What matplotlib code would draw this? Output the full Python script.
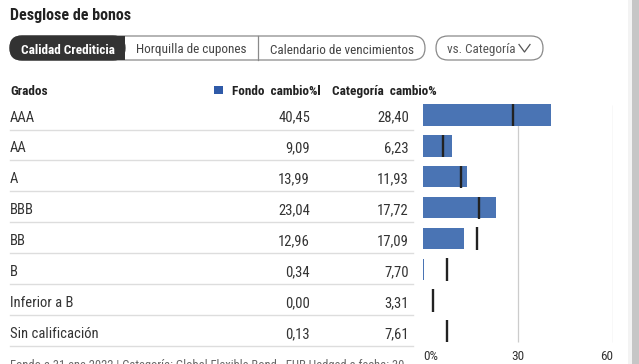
import matplotlib
matplotlib.use('Agg')
import matplotlib.pyplot as plt
from matplotlib import font_manager as fm
from matplotlib.patches import FancyBboxPatch, Rectangle

# ---- data ----
grades = ["AAA", "AA", "A", "BBB", "BB", "B", "Inferior a B", "Sin calificación"]
fund = [40.45, 9.09, 13.99, 23.04, 12.96, 0.34, 0.00, 0.13]
category = [28.40, 6.23, 11.93, 17.72, 17.09, 7.70, 3.31, 7.61]
tick_values = [0, 30, 60]
tick_labels = ["0%", "30", "60"]
tabs = ["Calidad Crediticia", "Horquilla de cupones", "Calendario de vencimientos"]
title = "Desglose de bonos"
footer = "Fondo a 31 ene 2022 | Categoría: Global Flexible Bond - EUR Hedged a fecha: 30"


def fmt(v):
    return f"{v:.2f}".replace('.', ',')


available = {f.name for f in fm.fontManager.ttflist}
prefs = ['Roboto Condensed', 'Archivo Narrow', 'IBM Plex Sans Condensed',
         'Liberation Sans Narrow', 'Open Sans Condensed']
chosen = [p for p in prefs if p in available][:1]
plt.rcParams['font.family'] = chosen + ['DejaVu Sans']

W, H = 639, 364
fig = plt.figure(figsize=(W / 100, H / 100), dpi=100)
fig.patch.set_facecolor('white')

ov = fig.add_axes([0, 0, 1, 1])
ov.set_xlim(0, W)
ov.set_ylim(H, 0)
ov.axis('off')

BLUE = '#4a74b4'
DARK = '#333333'
TXT = '#333333'

ov.text(10, 20, title, fontsize=11.5, fontweight='bold', color='#222222', va='baseline')

tab_edges = [10, 125, 258, 425]
ty0, ty1 = 36, 60
r = 12
ov.add_patch(FancyBboxPatch((tab_edges[0], ty0), tab_edges[-1] - tab_edges[0], ty1 - ty0,
                            boxstyle=f"round,pad=0,rounding_size={r}", fc='white',
                            ec='#8a8a8a', lw=0.9))
ov.add_patch(FancyBboxPatch((tab_edges[0], ty0), tab_edges[1] - tab_edges[0], ty1 - ty0,
                            boxstyle=f"round,pad=0,rounding_size={r}", fc=DARK, ec=DARK, lw=0.9))
ov.add_patch(Rectangle((tab_edges[1] - r - 1, ty0), r + 1, ty1 - ty0, fc=DARK, ec='none'))
ov.plot([tab_edges[2], tab_edges[2]], [ty0, ty1], color='#8a8a8a', lw=0.9)
for i, t in enumerate(tabs):
    cx = (tab_edges[i] + tab_edges[i + 1]) / 2
    ov.text(cx, 53.5, t, ha='center', va='baseline', fontsize=9.5,
            color='white' if i == 0 else '#444444', fontweight='bold' if i == 0 else 'normal')
ov.add_patch(FancyBboxPatch((436, ty0), 543 - 436, ty1 - ty0,
                            boxstyle=f"round,pad=0,rounding_size={r}", fc='white',
                            ec='#8a8a8a', lw=0.9))
ov.text(447, 53.5, "vs. Categoría", ha='left', va='baseline', fontsize=9.5, color='#555555')
ov.plot([519, 524.5, 530], [44.5, 52, 44.5], color='#555555', lw=0.9)

ov.text(10, 95, "Grados", fontsize=9.5, fontweight='bold', color='#222222', va='baseline')
ov.add_patch(Rectangle((214, 85.5), 8.5, 8.5, fc='#2f5aa8', ec='none'))
ov.text(232, 95, "Fondo  cambio%", ha='left', fontsize=9.5, fontweight='bold', color='#222222', va='baseline')
ov.add_patch(Rectangle((317.5, 85), 2.5, 10, fc='#222222', ec='none'))
ov.text(332, 95, "Categoría  cambio%", ha='left', fontsize=9.5, fontweight='bold', color='#222222', va='baseline')

p = 30.9
yc = 115
for i, g in enumerate(grades):
    yb = 121.5 + i * p
    ov.text(10, yb, g, fontsize=10.5, color=TXT, va='baseline')
    ov.text(310, yb, fmt(fund[i]), ha='right', fontsize=10.5, color=TXT, va='baseline')
    ov.text(409, yb, fmt(category[i]), ha='right', fontsize=10.5, color=TXT, va='baseline')
    ysep = yc + 14.5 + i * p
    ov.plot([10, 413], [ysep, ysep], color='#dddddd', lw=1)

ov.text(10, 359.5, footer, fontsize=9, color='#666666', va='top')

ov.add_patch(Rectangle((628, 0), 4, H, fc='#f3f3f3', ec='none'))
ov.add_patch(Rectangle((632, 0), 7, H, fc='#c6c6c6', ec='none'))

top = yc - 0.5 * p
bottom = yc + 7.5 * p
ax = fig.add_axes([423 / W, 1 - bottom / H, 190 / W, (bottom - top) / H])
ax.set_xlim(0, 60)
ax.set_ylim(7.5, -0.5)
ax.patch.set_alpha(0)
ys = list(range(len(grades)))
ax.vlines([30, 60], -0.32, 7.35, color='#cccccc', lw=0.9, zorder=0)
ax.barh(ys, fund, height=0.69, color=BLUE, zorder=2)
ax.vlines(category, [y - 0.36 for y in ys], [y + 0.36 for y in ys], color='#222222', lw=1.7, zorder=3)
for s in ax.spines.values():
    s.set_visible(False)
ax.set_yticks([])
ax.set_xticks(tick_values)
ax.set_xticklabels(tick_labels, fontsize=9.5, color=TXT)
ax.tick_params(axis='x', length=0, pad=2)
labs = ax.get_xticklabels()
labs[0].set_ha('left')
labs[-1].set_ha('right')

fig.savefig('out.png', dpi=100)
